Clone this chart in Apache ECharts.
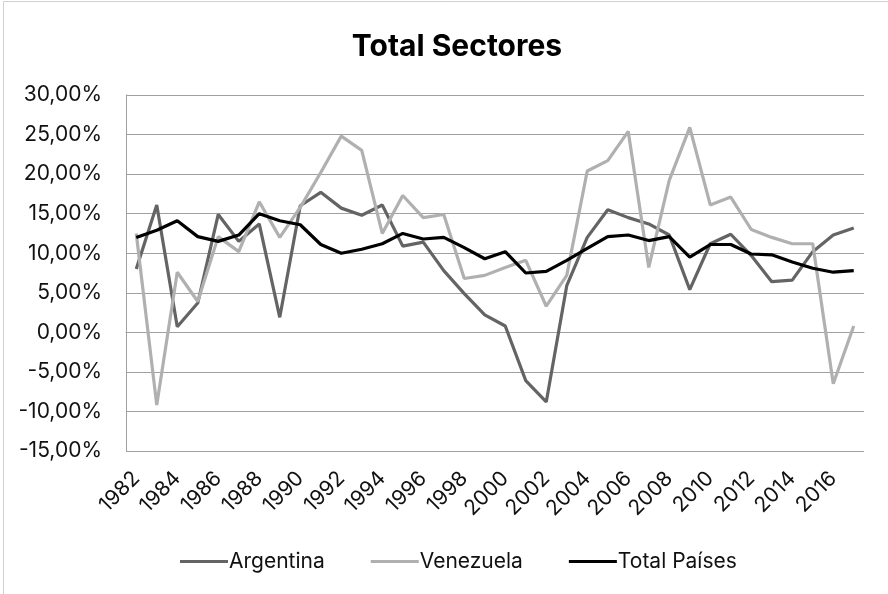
<!DOCTYPE html>
<html><head><meta charset="utf-8">
<script src="https://cdn.jsdelivr.net/npm/echarts@6/dist/echarts.min.js"></script>
<style>html,body{margin:0;padding:0;background:#fff}#c{width:888px;height:594px}</style>
</head><body><div id="c"></div>
<script>
const years = ['1982','1983','1984','1985','1986','1987','1988','1989','1990','1991','1992','1993','1994','1995','1996','1997','1998','1999','2000','2001','2002','2003','2004','2005','2006','2007','2008','2009','2010','2011','2012','2013','2014','2015','2016','2017'];
const argentina = [8.0,16.1,0.7,3.7,14.9,11.5,13.7,1.9,16.0,17.7,15.7,14.8,16.1,10.9,11.4,7.8,4.9,2.2,0.8,-6.1,-8.8,5.9,12.0,15.5,14.5,13.7,12.3,5.4,11.2,12.4,9.7,6.4,6.6,10.2,12.3,13.2];
const venezuela = [12.5,-9.2,7.6,3.9,12.1,10.2,16.5,12.0,15.8,20.2,24.8,23.0,12.5,17.3,14.5,14.9,6.8,7.2,8.2,9.1,3.3,7.2,20.4,21.7,25.4,8.2,19.2,25.9,16.1,17.1,13.0,12.0,11.2,11.2,-6.5,0.8];
const total = [12.0,12.9,14.1,12.1,11.5,12.3,15.0,14.1,13.6,11.1,10.0,10.5,11.2,12.5,11.8,12.0,10.7,9.3,10.2,7.5,7.7,9.1,10.6,12.1,12.3,11.6,12.1,9.5,11.1,11.1,9.9,9.8,8.9,8.1,7.6,7.8];
const yMin = -15, yMax = 30, yStep = 5;
const names = ['Argentina','Venezuela','Total Países'];
const colors = ['#646464','#b0b0b0','#000000'];

const font = 'Inter, Lato, sans-serif';
const chart = echarts.init(document.getElementById('c'));
const fmt = v => v.toFixed(2).replace('.', ',') + '%';
chart.setOption({
  animation: false,
  graphic: [{type:'rect', shape:{x:3.5,y:1.5,width:890,height:600}, style:{fill:'none', stroke:'#d0d0d0', lineWidth:1}}],
  title: {text:'Total Sectores', left:452, textAlign:'center', top:27, textStyle:{fontFamily:font, fontWeight:'bold', fontSize:30, color:'#000'}},
  legend: {bottom:17, left:175, itemWidth:48, itemHeight:3, itemGap:46, icon:'rect',
    textStyle:{fontFamily:font, fontSize:21, color:'#111', padding:[0,0,0,-4]},
    data: names},
  grid: {left:126, right:24, top:95, bottom:143},
  xAxis: {type:'category', data:years, boundaryGap:true,
    axisLine:{lineStyle:{color:'#a0a0a0', width:1}}, axisTick:{show:false},
    axisLabel:{interval:1, rotate:45, fontFamily:font, fontSize:21, color:'#111', margin:24}},
  yAxis: {type:'value', min:yMin, max:yMax, interval:yStep,
    axisLine:{show:true, lineStyle:{color:'#a0a0a0'}}, axisTick:{show:false},
    splitLine:{lineStyle:{color:'#a0a0a0', width:1}},
    axisLabel:{formatter:fmt, fontFamily:font, fontSize:21, color:'#111', margin:24}},
  series: [argentina, venezuela, total].map((d,i)=>({
    name:names[i], type:'line', data:d, symbol:'none', smooth:false,
    lineStyle:{color:colors[i], width:3.2}, itemStyle:{color:colors[i]}
  }))
});
</script></body></html>
